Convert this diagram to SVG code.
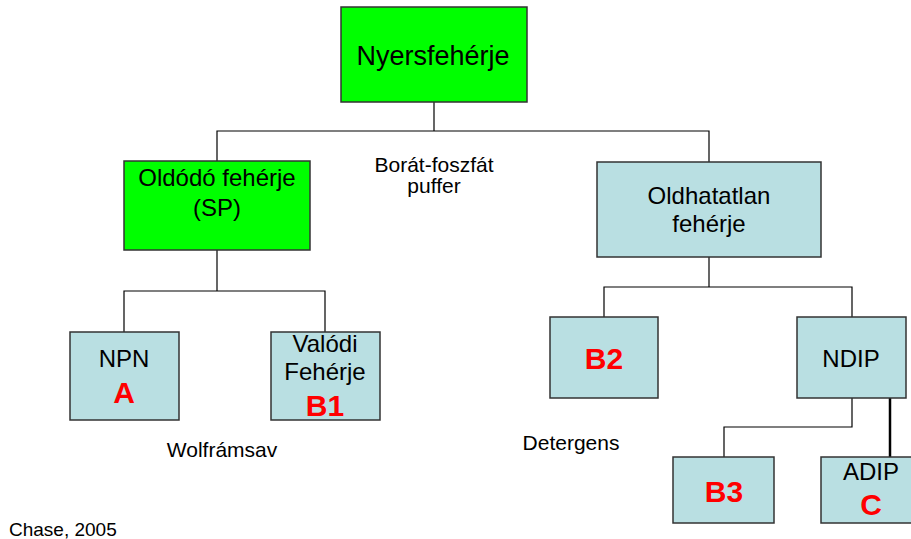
<svg xmlns="http://www.w3.org/2000/svg" width="911" height="539" viewBox="0 0 911 539">
<style>
text{font-family:"Liberation Sans",Arial,sans-serif;fill:#000;text-anchor:middle}
.g{fill:#00FF00;stroke:#333;stroke-width:1.5}
.b{fill:#B9DFE2;stroke:#333;stroke-width:1.5}
.t{font-size:24px}
.r{font-size:30px;font-weight:bold;fill:#FF0000}
.l{font-size:21px}
.c{fill:none;stroke:#000;stroke-width:1.2}
</style>
<rect width="911" height="539" fill="#fff"/>
<g id="connectors">
<polyline class="c" points="434,102 434,131"/>
<polyline class="c" points="217,161 217,131 709,131 709,162"/>
<polyline class="c" points="217,250 217,291"/>
<polyline class="c" points="124,332 124,291 325,291 325,332"/>
<polyline class="c" points="709,257 709,287"/>
<polyline class="c" points="604,317 604,287 852,287 852,317"/>
<polyline class="c" points="852,398 852,427 724,427 724,457"/>
<polyline class="c" points="890,398 890,457" style="stroke-width:2.5"/>
</g>
<g id="nyersfeherje"><rect class="g" x="341" y="7" width="186" height="95"/><text class="t" x="433" y="65" style="font-size:27px">Nyersfehérje</text></g>
<g id="oldodo"><rect class="g" x="124" y="161" width="186" height="89"/><text class="t" x="217" y="186">Oldódó fehérje</text><text class="t" x="217" y="216">(SP)</text></g>
<g id="oldhatatlan"><rect class="b" x="597" y="162" width="224" height="95"/><text class="t" x="709" y="204">Oldhatatlan</text><text class="t" x="709" y="232">fehérje</text></g>
<g id="npn"><rect class="b" x="70" y="332" width="109" height="88"/><text class="t" x="124" y="367">NPN</text><text class="r" x="124" y="403">A</text></g>
<g id="valodi"><rect class="b" x="271" y="332" width="109" height="88"/><text class="t" x="325" y="352">Valódi</text><text class="t" x="325" y="380">Fehérje</text><text class="r" x="325" y="416">B1</text></g>
<g id="b2"><rect class="b" x="550" y="317" width="108" height="81"/><text class="r" x="604" y="369">B2</text></g>
<g id="ndip"><rect class="b" x="797" y="317" width="109" height="81"/><text class="t" x="851" y="367">NDIP</text></g>
<g id="b3"><rect class="b" x="673" y="457" width="101" height="66"/><text class="r" x="724" y="502">B3</text></g>
<g id="adip"><rect class="b" x="821" y="457" width="100" height="66"/><text class="t" x="871" y="480">ADIP</text><text class="r" x="871" y="515">C</text></g>
<g id="labels">
<text class="l" x="434" y="172">Borát-foszfát</text>
<text class="l" x="434" y="193">puffer</text>
<text class="l" x="222" y="457">Wolfrámsav</text>
<text class="l" x="571" y="450">Detergens</text>
<text x="9" y="536" style="font-size:19px;text-anchor:start">Chase, 2005</text>
</g>
</svg>
